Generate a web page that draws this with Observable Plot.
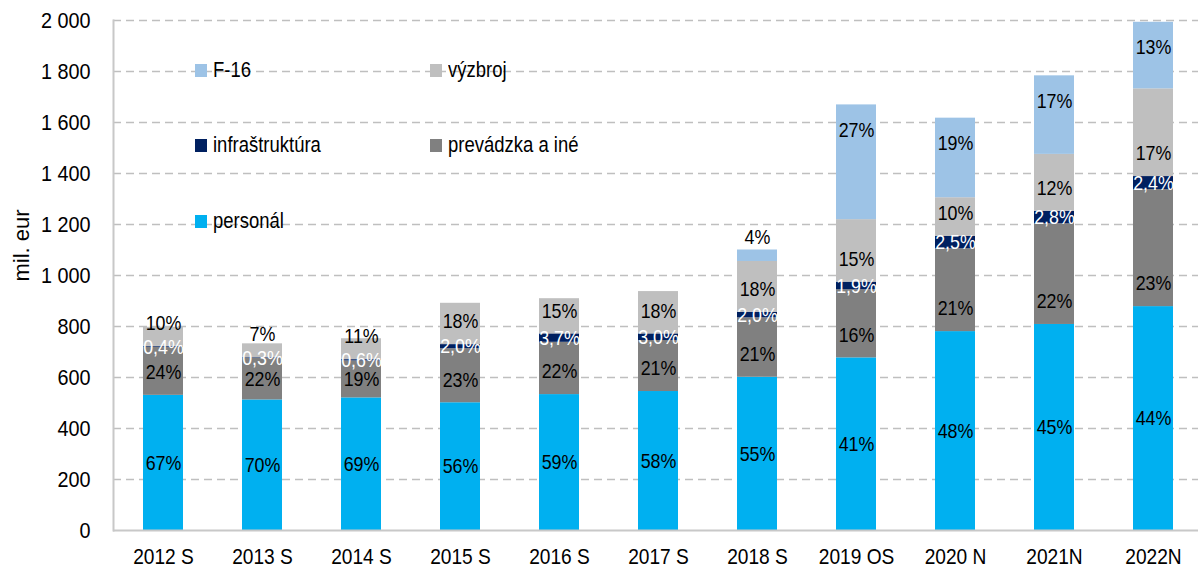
<!DOCTYPE html>
<html>
<head>
<meta charset="utf-8">
<script src="https://cdn.jsdelivr.net/npm/d3@7"></script>
<script src="https://cdn.jsdelivr.net/npm/@observablehq/plot@0.6"></script>
<style>
  html, body { margin: 0; padding: 0; background: #fff; }
  #wrap { position: relative; width: 1198px; height: 572px; overflow: hidden; }
  .lg { position: absolute; display: flex; align-items: center; font-family: "Liberation Sans", Arial, sans-serif; font-size: 22px; color: #000; white-space: nowrap; transform: translateY(-50%); }
  .lg span.sw { display: inline-block; width: 12px; height: 13px; margin-right: 6px; flex: none; }
  .lg span.tx { display: inline-block; transform: scaleX(0.84); transform-origin: left center; }
</style>
</head>
<body>
<div id="wrap"></div>
<script>
const categories = ["2012 S","2013 S","2014 S","2015 S","2016 S","2017 S","2018 S","2019 OS","2020 N","2021N","2022N"];

const personal       = [530, 512, 520, 501, 533, 545, 601, 677, 780, 808, 878];
const prevadzka      = [189, 164, 145, 212, 205, 200, 233, 267, 325, 395, 459];
const infrastruktura = [3,   2,   5,   16,  33,  26,  22,  30,  48,  49,  51];
const vyzbroj        = [75,  54,  82,  162, 138, 166, 199, 245, 152, 223, 344];
const f16            = [0,   0,   0,   0,   0,   0,   45,  450, 312, 308, 261];

const personalLabels  = ["67%","70%","69%","56%","59%","58%","55%","41%","48%","45%","44%"];
const prevadzkaLabels = ["24%","22%","19%","23%","22%","21%","21%","16%","21%","22%","23%"];
const infraLabels     = ["0,4%","0,3%","0,6%","2,0%","3,7%","3,0%","2,0%","1,9%","2,5%","2,8%","2,4%"];
const vyzbrojLabels   = ["10%","7%","11%","18%","15%","18%","18%","15%","10%","12%","17%"];
const f16Labels       = ["","","","","","","4%","27%","19%","17%","13%"];

const seriesNames = ["personál","prevádzka a iné","infraštruktúra","výzbroj","F-16"];
const seriesColors = ["#00B0F0","#808080","#002060","#BFBFBF","#9DC3E6"];
const yTicks = [0,200,400,600,800,1000,1200,1400,1600,1800,2000];

const seriesData = [
  {name: seriesNames[0], values: personal, labels: personalLabels},
  {name: seriesNames[1], values: prevadzka, labels: prevadzkaLabels},
  {name: seriesNames[2], values: infrastruktura, labels: infraLabels},
  {name: seriesNames[3], values: vyzbroj, labels: vyzbrojLabels},
  {name: seriesNames[4], values: f16, labels: f16Labels}
];

const rows = [];
categories.forEach((cat, i) => {
  let cum = 0;
  seriesData.forEach(s => {
    const v = s.values[i];
    if (v > 0) {
      rows.push({cat, s: s.name, v, y1: cum, y2: cum + v, label: s.labels[i]});
      cum += v;
    }
  });
});

const fmt = d => d3.format(",")(d).replace(/,/g, " ");
const font = '"Liberation Sans", Arial, sans-serif';
const baseOffset = 90; // label offset above a segment's base, in data units

const chart = Plot.plot({
  width: 1198,
  height: 572,
  marginLeft: 113,
  marginRight: 0,
  marginTop: 20,
  marginBottom: 42,
  style: {fontFamily: font, fontSize: "22px", color: "#000", background: "#fff", overflow: "visible"},
  x: {domain: categories, range: [113, 1202], paddingInner: 0.6, paddingOuter: 0.3, label: null},
  y: {domain: [0, 2000], label: null},
  color: {domain: seriesNames, range: seriesColors},
  marks: [
    Plot.ruleY(yTicks.filter(d => d > 0), {stroke: "#BFBFBF", strokeWidth: 1.6, strokeDasharray: "8,5"}),
    Plot.barY(rows, {x: "cat", y1: "y1", y2: "y2", fill: "s"}),
    Plot.ruleY([0], {stroke: "#C8C8C8", strokeWidth: 2}),
    Plot.frame({anchor: "left", stroke: "#C8C8C8", strokeWidth: 2}),
    Plot.axisY({ticks: yTicks, tickFormat: fmt, tickSize: 0, tickPadding: 23, label: null, fontSize: 22, className: "sq-ytick"}),
    Plot.axisX({tickSize: 0, tickPadding: 18, label: null, fontSize: 22, className: "sq-xtick"}),
    Plot.text(["mil. eur"], {frameAnchor: "left", text: d => d, rotate: -90, dx: -92, dy: 6, fontSize: 22, fill: "#000", className: "no-squeeze"}),
    // personál: centered
    Plot.text(rows.filter(d => d.s === seriesNames[0]), {x: "cat", y: d => (d.y1 + d.y2) / 2, text: "label", fill: "#000", fontSize: 21}),
    // prevádzka a iné: centered, but no higher than the base offset
    Plot.text(rows.filter(d => d.s === seriesNames[1]), {x: "cat", y: d => Math.min((d.y1 + d.y2) / 2, d.y1 + baseOffset), text: "label", fill: "#000", fontSize: 21}),
    // výzbroj: near the base of the segment
    Plot.text(rows.filter(d => d.s === seriesNames[3]), {x: "cat", y: d => d.y1 + baseOffset, text: "label", fill: "#000", fontSize: 21}),
    // infraštruktúra: centered, white
    Plot.text(rows.filter(d => d.s === seriesNames[2]), {x: "cat", y: d => (d.y1 + d.y2) / 2, text: "label", fill: "#fff", fontSize: 21}),
    // F-16: near the top end
    Plot.text(rows.filter(d => d.s === seriesNames[4] && d.v >= 100), {x: "cat", y: "y2", text: "label", fill: "#000", fontSize: 21, dy: 25}),
    Plot.text(rows.filter(d => d.s === seriesNames[4] && d.v < 100), {x: "cat", y: "y2", text: "label", fill: "#000", fontSize: 21, dy: -13})
  ]
});

const wrap = document.getElementById("wrap");
wrap.appendChild(chart);

// Horizontally condense text (reference typeface is narrow)
chart.querySelectorAll("text").forEach(t => {
  if (t.closest(".no-squeeze")) return;
  const inY = t.closest(".sq-ytick");
  const factor = inY ? 0.9 : (t.closest(".sq-xtick") ? 0.87 : 0.85);
  const len = t.getComputedTextLength();
  if (len > 0) {
    t.setAttribute("textLength", (len * factor).toFixed(2));
    t.setAttribute("lengthAdjust", "spacingAndGlyphs");
  }
});

// legend (inside plot area, top-left)
const legendItems = [
  {name: "F-16", col: 0, row: 0},
  {name: "výzbroj", col: 1, row: 0},
  {name: "infraštruktúra", col: 0, row: 1},
  {name: "prevádzka a iné", col: 1, row: 1},
  {name: "personál", col: 0, row: 2}
];
const colX = [195, 430];
const rowY = [70, 145, 221];
legendItems.forEach(it => {
  const el = document.createElement("div");
  el.className = "lg";
  el.style.left = colX[it.col] + "px";
  el.style.top = rowY[it.row] + "px";
  const sw = document.createElement("span");
  sw.className = "sw";
  sw.style.background = seriesColors[seriesNames.indexOf(it.name)];
  const tx = document.createElement("span");
  tx.className = "tx";
  tx.textContent = it.name;
  el.appendChild(sw);
  el.appendChild(tx);
  wrap.appendChild(el);
});
</script>
</body>
</html>
